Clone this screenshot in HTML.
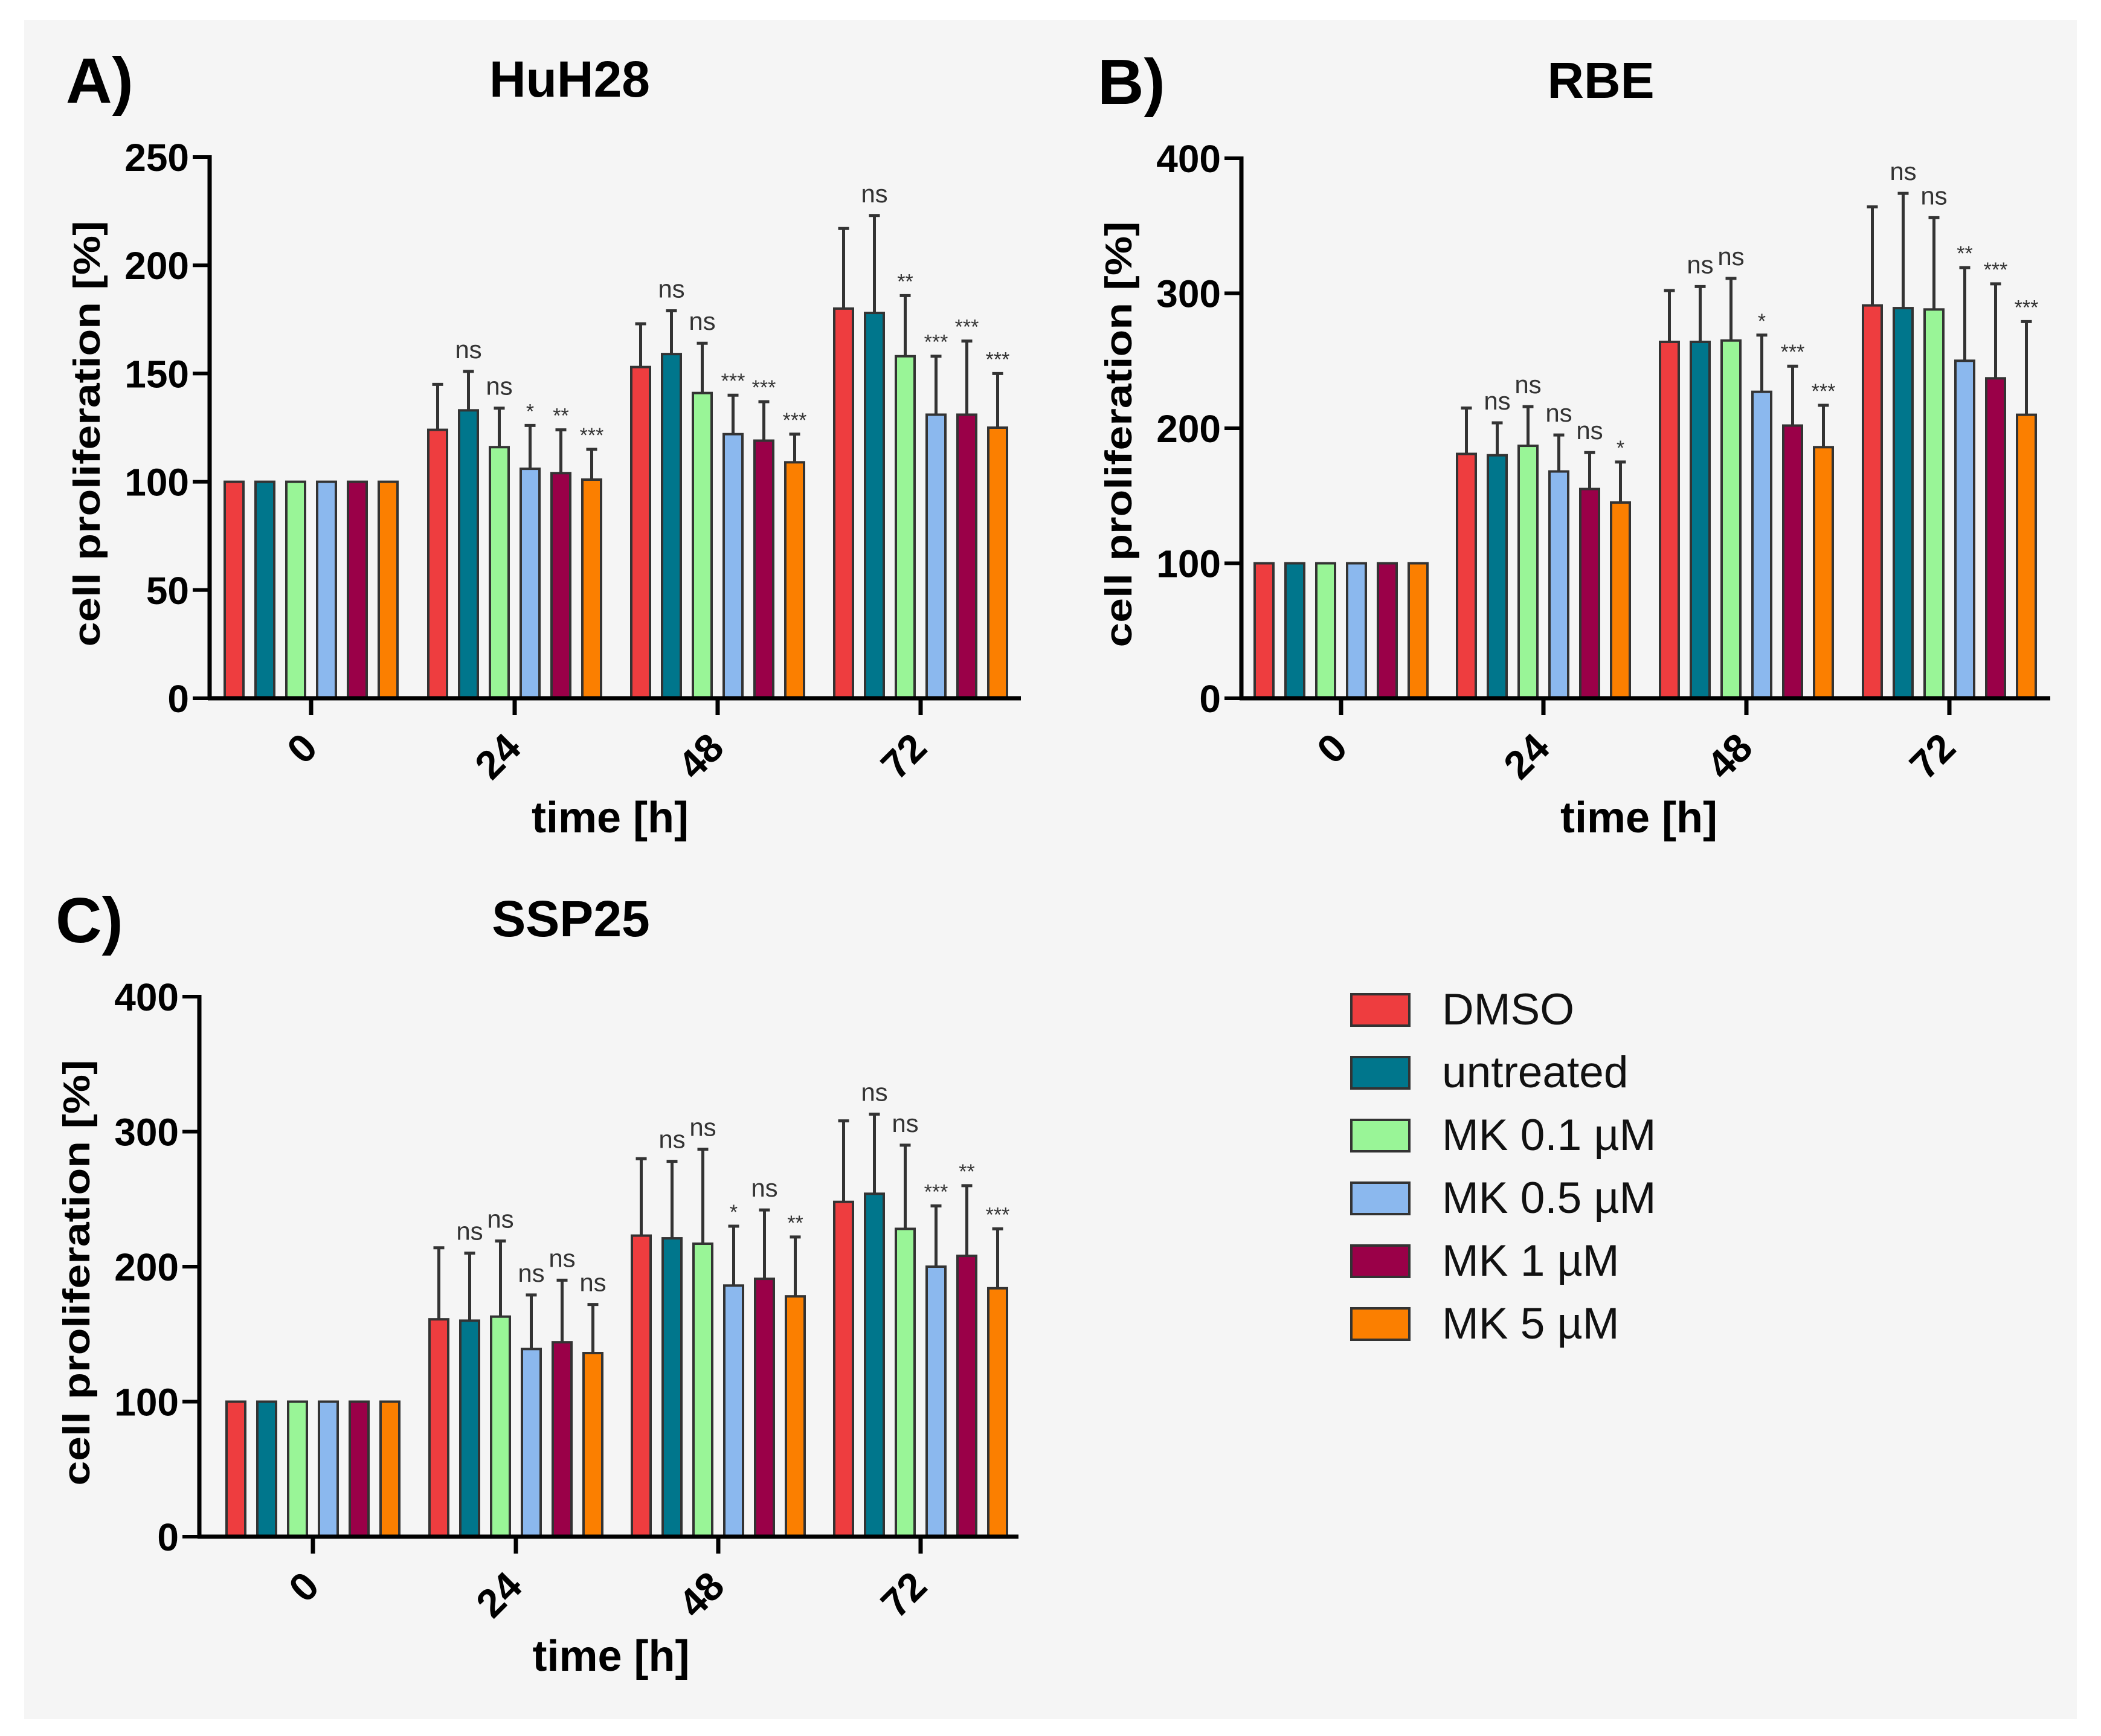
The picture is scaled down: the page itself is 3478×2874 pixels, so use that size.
<!DOCTYPE html>
<html><head><meta charset="utf-8"><style>
html,body{margin:0;padding:0;background:#fff;}
svg{display:block;font-family:"Liberation Sans",Arial,sans-serif;}
</style></head><body>
<svg id="fig" width="3478" height="2874" viewBox="0 0 3478 2874" xmlns="http://www.w3.org/2000/svg">
<rect x="40" y="33" width="3398" height="2813" fill="#f5f5f5"/>
<g id="legend"></g>
</svg>
<script>
const NS="http://www.w3.org/2000/svg";
const svg=document.getElementById('fig');
const seriesNames=["DMSO","untreated","MK 0.1 µM","MK 0.5 µM","MK 1 µM","MK 5 µM"];
const seriesColors=["#ee3d3f","#00768c","#99f597","#8bb8ee","#9a0048","#fb7f00"];
const categories=["0","24","48","72"];

const aMeans=[[100,124,153,180],[100,133,159,178],[100,116,141,158],[100,106,122,131],[100,104,119,131],[100,101,109,125]];
const aTops=[[100,145,173,217],[100,151,179,223],[100,134,164,186],[100,126,140,158],[100,124,137,165],[100,115,122,150]];
const aSig=[["","","",""],["","ns","ns","ns"],["","ns","ns","**"],["","*","***","***"],["","**","***","***"],["","***","***","***"]];
const aTicks=[0,50,100,150,200,250];

const bMeans=[[100,181,264,291],[100,180,264,289],[100,187,265,288],[100,168,227,250],[100,155,202,237],[100,145,186,210]];
const bTops=[[100,215,302,364],[100,204,305,374],[100,216,311,356],[100,195,269,319],[100,182,246,307],[100,175,217,279]];
const bSig=[["","","",""],["","ns","ns","ns"],["","ns","ns","ns"],["","ns","*","**"],["","ns","***","***"],["","*","***","***"]];
const bTicks=[0,100,200,300,400];

const cMeans=[[100,161,223,248],[100,160,221,254],[100,163,217,228],[100,139,186,200],[100,144,191,208],[100,136,178,184]];
const cTops=[[100,214,280,308],[100,210,278,313],[100,219,287,290],[100,179,230,245],[100,190,242,260],[100,172,222,228]];
const cSig=[["","","",""],["","ns","ns","ns"],["","ns","ns","ns"],["","ns","*","***"],["","ns","ns","**"],["","ns","**","***"]];
const cTicks=[0,100,200,300,400];

function el(tag,attrs,parent){const e=document.createElementNS(NS,tag);for(const k in attrs)e.setAttribute(k,attrs[k]);(parent||svg).appendChild(e);return e;}

function panel(cfg){
  const g=el('g',{});
  
  
  const {ax,y0,y1,xEnd,ymax,ticks,centers,means,tops,sig}=cfg;
  const yS=v=>y0-(v/ymax)*(y0-y1);
  const step=51, bw=31;
  const L=el('text',{x:ax-238,y:y1-90,'font-size':106,'font-weight':'bold',fill:'#000'},g);L.textContent=cfg.letter;
  
  const T=el('text',{x:cfg.titleX,y:y1-100,'font-size':84,'font-weight':'bold','text-anchor':'middle',fill:'#000'},g);T.textContent=cfg.title;
  
  for(let c=0;c<categories.length;c++){
    for(let s=0;s<6;s++){
      const cx=centers[c]+(s-2.5)*step;
      const yt=yS(tops[s][c]), ym=yS(means[s][c]);
      if(tops[s][c]>means[s][c]){
        const e=el('line',{x1:cx,x2:cx,y1:ym,y2:yt,stroke:'#333',"stroke-width":5},g);
        
        const cap=el('line',{x1:cx-9,x2:cx+9,y1:yt,y2:yt,stroke:'#333',"stroke-width":5},g);
        
      }
      const r=el('rect',{x:cx-bw/2,y:ym,width:bw,height:y0-ym,fill:seriesColors[s],stroke:'#333','stroke-width':4},g);
      
      
      const lab=sig[s][c];
      if(lab){
        const isNs=lab==='ns';
        const t=el('text',{x:cx,y:yt-(isNs?22:12),'font-size':isNs?42:34,'text-anchor':'middle',fill:'#333'},g);
        t.textContent=lab;
        
        
      }
    }
  }
  const ya=el('line',{x1:ax,x2:ax,y1:y1-3,y2:y0+3,stroke:'#000','stroke-width':7},g);
  
  const xa=el('line',{x1:ax-3,x2:xEnd,y1:y0,y2:y0,stroke:'#000','stroke-width':7},g);
  
  ticks.forEach(v=>{
    const y=yS(v);
    el('line',{x1:ax-28,x2:ax,y1:y,y2:y,stroke:'#000','stroke-width':6},g);
    const t=el('text',{x:ax-34,y:y+23,'font-size':64,'font-weight':'bold','text-anchor':'end',fill:'#000'},g);
    t.textContent=v;
    
    
  });
  categories.forEach((c,i)=>{
    const x=centers[i];
    el('line',{x1:x,x2:x,y1:y0,y2:y0+28,stroke:'#000','stroke-width':7},g);
    const t=el('text',{x:x+14,y:y0+86,'font-size':66,'font-weight':'bold','text-anchor':'end',fill:'#000',transform:`rotate(-45 ${x+14} ${y0+86})`},g);
    t.textContent=c;
    
    
  });
  const xt=el('text',{x:(centers[1]+centers[2])/2-10,y:y0+222,'font-size':72,'font-weight':'bold','text-anchor':'middle',fill:'#000'},g);
  xt.textContent='time [h]';
  
  const yx=ax-182, yy=(y0+y1)/2+10;
  const yt=el('text',{x:yx,y:yy,'font-size':62,'font-weight':'bold','text-anchor':'middle',fill:'#000',transform:`rotate(-90 ${yx} ${yy})`,textLength:705,lengthAdjust:'spacingAndGlyphs'},g);
  yt.textContent='cell proliferation [%]';
  
}

panel({name:'panel-a-huh28',letter:'A)',title:'HuH28',titleX:943,ax:347,y0:1156,y1:260,xEnd:1690,ymax:250,ticks:aTicks,centers:[515,852,1188,1524],means:aMeans,tops:aTops,sig:aSig});
panel({name:'panel-b-rbe',letter:'B)',title:'RBE',titleX:2650,ax:2055,y0:1156,y1:262,xEnd:3394,ymax:400,ticks:bTicks,centers:[2220,2555,2891,3227],means:bMeans,tops:bTops,sig:bSig});
panel({name:'panel-c-ssp25',letter:'C)',title:'SSP25',titleX:945,ax:330,y0:2544,y1:1650,xEnd:1686,ymax:400,ticks:cTicks,centers:[518,854,1189,1524],means:cMeans,tops:cTops,sig:cSig});

const lg=document.getElementById('legend');
seriesNames.forEach((n,i)=>{
  const y=1646+i*104;
  const r=el('rect',{x:2237,y:y,width:96,height:52,fill:seriesColors[i],stroke:'#333','stroke-width':4},lg);
  
  
  const t=el('text',{x:2387,y:y+50,'font-size':73,fill:'#111'},lg);
  t.textContent=n;
  
  
});
svg.appendChild(lg);
</script>
</body></html>
